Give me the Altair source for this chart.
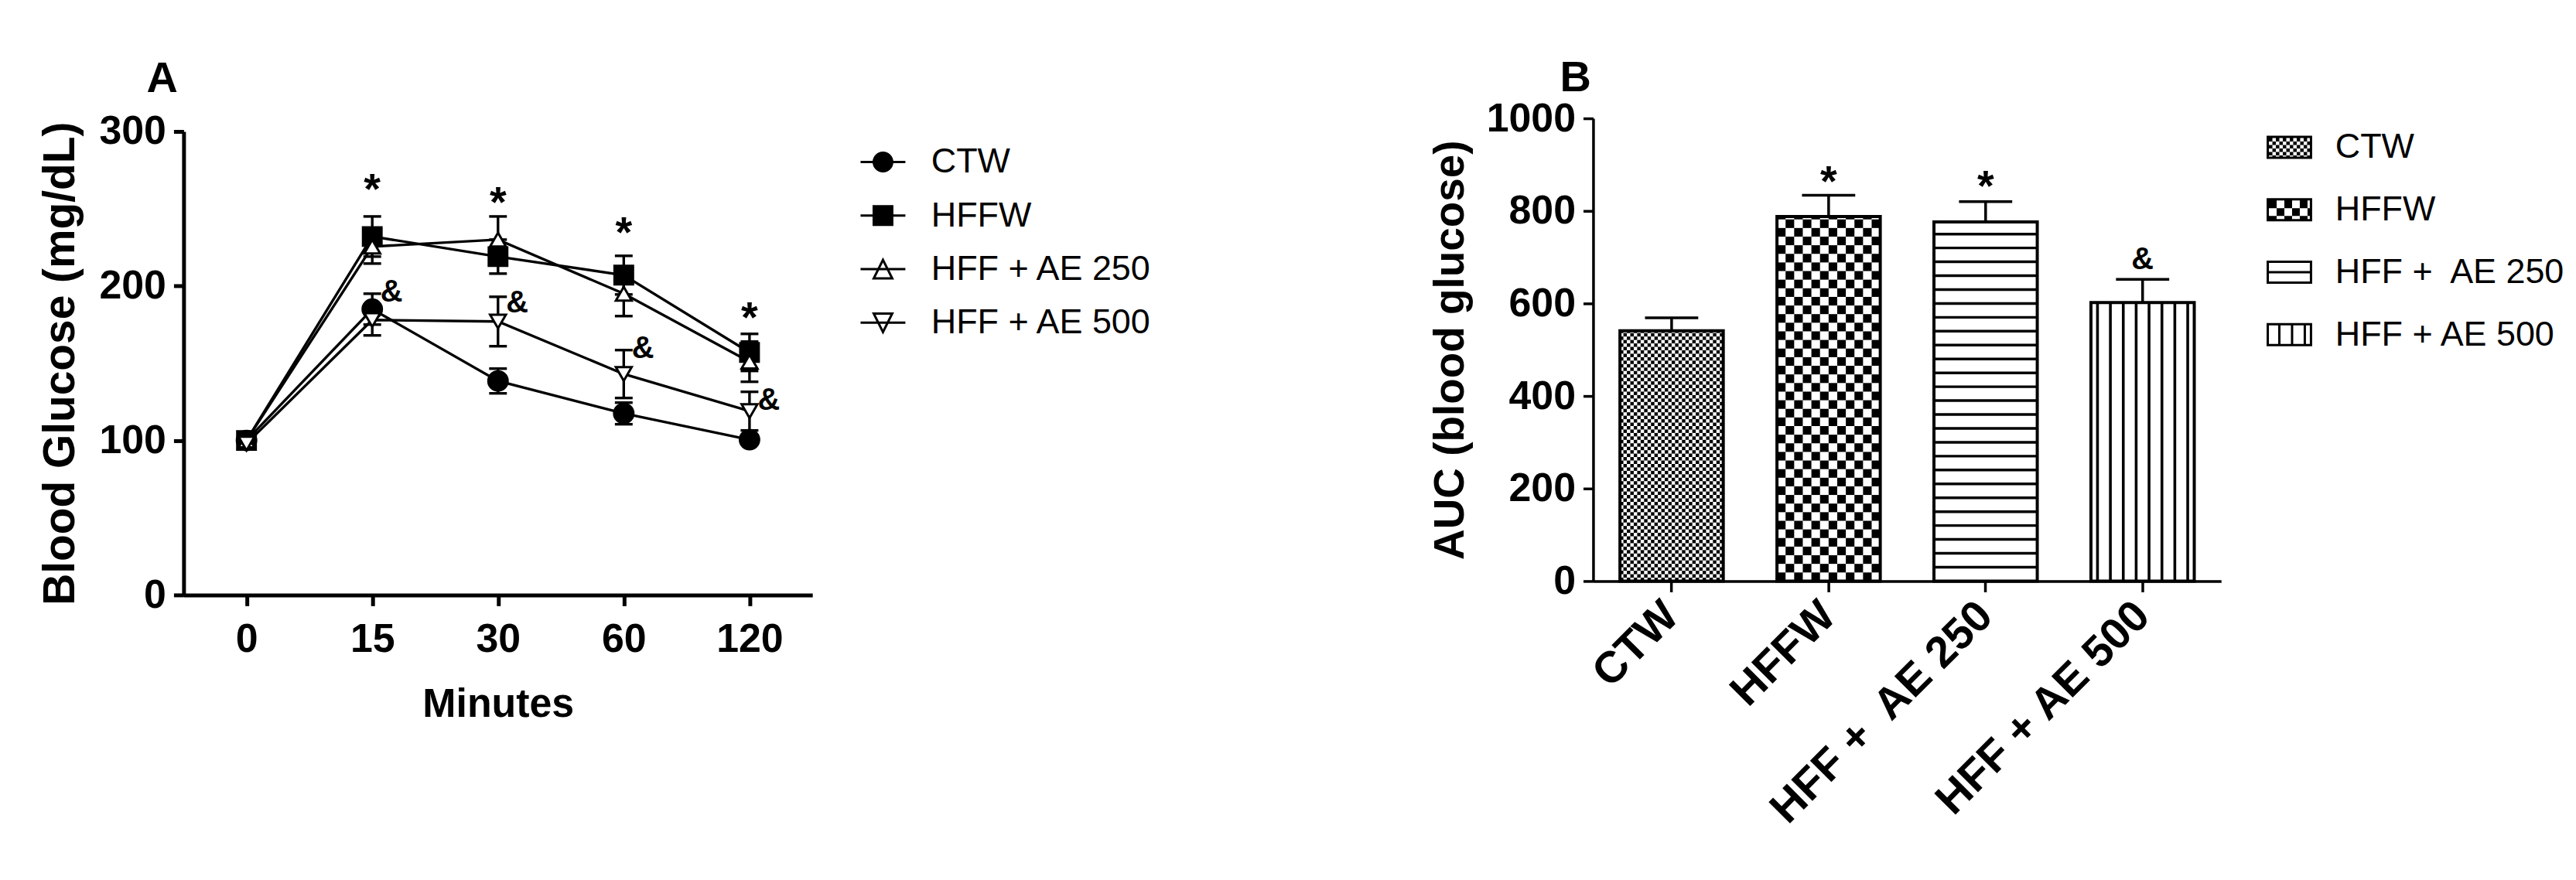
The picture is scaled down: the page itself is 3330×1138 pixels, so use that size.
import altair as alt
import pandas as pd

# ---------------- Panel A data (oral glucose tolerance) ----------------
times = ["0", "15", "30", "60", "120"]
groups = ["CTW", "HFFW", "HFF + AE 250", "HFF + AE 500"]
ctw_mean = [100, 185, 138.5, 117.5, 100.5]
ctw_sem = [2, 10, 8, 7, 3]
hffw_mean = [100, 232, 219, 207, 157]
hffw_sem = [3, 13, 11, 12.5, 12]
ae250_mean = [100, 225.5, 230, 195, 151]
ae250_sem = [3, 11, 15, 14.5, 13]
ae500_mean = [98, 178, 177, 143, 119]
ae500_sem = [3, 10, 16, 15.5, 12.5]

star_times = ["15", "30", "60", "120"]
star_y = [265, 256.5, 237, 182]
amp_times = ["15", "30", "60", "120"]
amp_y = [196, 189, 159.5, 126]

# ---------------- Panel B data (AUC) ----------------
auc_groups = ["CTW", "HFFW", "HFF +\u00a0 AE 250", "HFF + AE 500"]
auc_mean = [541, 788, 776, 602]
auc_sem = [28, 46, 44, 50]
auc_mark_groups = ["HFFW", "HFF +\u00a0 AE 250", "HFF + AE 500"]
auc_mark_text = ["*", "*", "&"]
auc_mark_y = [872, 862, 695]

SANS = "Liberation Sans"
TICKFONT = 52

means = dict(zip(groups, [ctw_mean, hffw_mean, ae250_mean, ae500_mean]))
sems = dict(zip(groups, [ctw_sem, hffw_sem, ae250_sem, ae500_sem]))
rowsA = []
for g in groups:
    for t, m, s in zip(times, means[g], sems[g]):
        rowsA.append({"time": t, "group": g, "mean": m, "lo": m - s, "hi": m + s})
dfA = pd.DataFrame(rowsA)
dfStar = pd.DataFrame({"time": star_times, "y": star_y, "label": ["*"] * len(star_times)})
dfAmp = pd.DataFrame({"time": amp_times, "y": amp_y, "label": ["&"] * len(amp_times)})

A_W, A_H, A_TOP = 815, 618, 17

xScaleA = alt.Scale(type="point", domain=times, padding=0.5)
xAxisA = alt.Axis(title="Minutes", labelAngle=0, domainWidth=5, domainColor="black",
                  tickWidth=5, tickColor="black", tickSize=14, labelFont=SANS,
                  labelFontWeight="bold", labelFontSize=TICKFONT, labelColor="black",
                  labelPadding=18, titleFont=SANS, titleFontWeight="bold",
                  titleFontSize=52, titleColor="black", titlePadding=34, grid=False)
yScaleA = alt.Scale(domain=[0, 300], range=[A_H, A_TOP], nice=False, zero=True)
yAxisA = alt.Axis(title="Blood Glucose (mg/dL)", values=[0, 100, 200, 300], format="d",
                  domainWidth=5, domainColor="black", tickWidth=5, tickColor="black",
                  tickSize=13, labelFont=SANS, labelFontWeight="bold", labelFontSize=TICKFONT,
                  labelColor="black", labelPadding=10, titleFont=SANS,
                  titleFontWeight="bold", titleFontSize=57, titleColor="black",
                  titlePadding=21, grid=False)


def XA():
    return alt.X("time:O", sort=times, scale=xScaleA, axis=xAxisA)


def YA(field):
    return alt.Y(f"{field}:Q", scale=yScaleA, axis=yAxisA)


baseA = alt.Chart(dfA)
lines = baseA.mark_line(color="black", strokeWidth=3.4).encode(x=XA(), y=YA("mean"), detail="group:N")
errs = baseA.mark_rule(color="black", strokeWidth=3.4).encode(x=XA(), y=YA("lo"), y2="hi:Q")
capHi = baseA.mark_tick(color="black", thickness=3.4, size=23, opacity=1).encode(x=XA(), y=YA("hi"))
capLo = baseA.mark_tick(color="black", thickness=3.4, size=23, opacity=1).encode(x=XA(), y=YA("lo"))

styleA = {
    "CTW": ("circle", "black", 625),
    "HFFW": ("square", "black", 576),
    "HFF + AE 250": ("triangle-up", "white", 420),
    "HFF + AE 500": ("triangle-down", "white", 420),
}
pointLayers = []
for g in groups:
    shp, fl, sz = styleA[g]
    pointLayers.append(
        baseA.transform_filter(alt.datum.group == g)
        .mark_point(shape=shp, filled=True, fill=fl, stroke="black", strokeWidth=3,
                    size=sz, opacity=1)
        .encode(x=XA(), y=YA("mean"))
    )

stars = alt.Chart(dfStar).mark_text(font=SANS, fontWeight="bold", fontSize=56,
                                    baseline="middle", dy=6, color="black").encode(
    x=XA(), y=YA("y"), text="label:N")
amps = alt.Chart(dfAmp).mark_text(font=SANS, fontWeight="bold", fontSize=40,
                                  baseline="middle", dx=25, color="black").encode(
    x=XA(), y=YA("y"), text="label:N")

L = 2.42
pathsA = [
    f"M{-L},0L{L},0M1,0A1,1,0,1,1,-1,0A1,1,0,1,1,1,0Z",
    f"M{-L},0L{L},0M-1,-1L1,-1L1,1L-1,1Z",
    f"M{-L},0L{L},0M0,-1L1,1L-1,1Z",
    f"M{-L},0L{L},0M-1,-1L1,-1L0,1Z",
]
legA = alt.Legend(title=None, orient="none", legendX=884, legendY=34, labelFont=SANS,
                  labelFontSize=45, labelColor="black", labelOffset=40, symbolSize=576,
                  symbolStrokeWidth=3, rowPadding=23.5, labelLimit=0, symbolOpacity=1)
legendLayerA = baseA.transform_filter("false").mark_point(
    filled=True, strokeWidth=3, opacity=1).encode(
    shape=alt.Shape("group:N", scale=alt.Scale(domain=groups, range=pathsA), legend=legA),
    fill=alt.Fill("group:N", scale=alt.Scale(domain=groups, range=["black", "black", "white", "white"]),
                  legend=legA),
    stroke=alt.Stroke("group:N", scale=alt.Scale(domain=groups, range=["black"] * 4), legend=legA),
)

chartA = alt.layer(lines, errs, capHi, capLo, *pointLayers, stars, amps, legendLayerA).properties(
    width=A_W, height=A_H,
    title=alt.TitleParams("A", anchor="start", frame="group", dx=-48, offset=-31, fontSize=56,
                          font=SANS, fontWeight="bold", color="black", baseline="alphabetic"),
)

# ---------------- Panel B ----------------
auc_hi = [m + s for m, s in zip(auc_mean, auc_sem)]
dfB = pd.DataFrame({"group": auc_groups, "mean": auc_mean, "hi": auc_hi})
dfBm = pd.DataFrame({"group": auc_mark_groups, "y": auc_mark_y, "label": auc_mark_text})

PX_PER_UNIT = 0.6  # 600 px for 1000 units
BAR_PX = 134


def checker(group, value, ncols, cell_px):
    ch = cell_px / PX_PER_UNIT
    out = []
    r = 0
    while r * ch < value:
        for c in range(ncols):
            if (r + c) % 2 == 0:
                out.append({"group": group, "col": c, "y0": r * ch, "y1": min((r + 1) * ch, value)})
        r += 1
    return pd.DataFrame(out)


dfFine = checker(auc_groups[0], auc_mean[0], 30, BAR_PX / 30)
dfCoarse = checker(auc_groups[1], auc_mean[1], 12, BAR_PX / 12)
hl = []
k = 1
while k * 30 + 3 < auc_mean[2]:
    hl.append({"group": auc_groups[2], "y0": k * 30 - 2.9, "y1": k * 30 + 2.9})
    k += 1
dfH = pd.DataFrame(hl)
dfV = pd.DataFrame({"group": [auc_groups[3]] * 8, "col": list(range(8)),
                    "y0": [0] * 8, "y1": [auc_mean[3]] * 8})

xScaleB = alt.Scale(domain=auc_groups, paddingInner=0.342, paddingOuter=0.171)
xAxisB = alt.Axis(title=None, labelAngle=-45, labelAlign="right", labelBaseline="middle",
                  labelFont=SANS, labelFontWeight="bold", labelFontSize=57, labelColor="black",
                  labelPadding=22, tickSize=14, tickWidth=3.5, tickColor="black",
                  domainWidth=3.5, domainColor="black", labelLimit=0, grid=False)
yScaleB = alt.Scale(domain=[0, 1000], nice=False)
yAxisB = alt.Axis(title="AUC (blood glucose)", values=[0, 200, 400, 600, 800, 1000], format="d",
                  domainWidth=3.5, domainColor="black", tickWidth=3.5, tickColor="black",
                  tickSize=13, labelFont=SANS, labelFontWeight="bold", labelFontSize=TICKFONT,
                  labelColor="black", labelPadding=10, titleFont=SANS, titleFontWeight="bold",
                  titleFontSize=55, titleColor="black", titlePadding=18, grid=False)


def XB():
    return alt.X("group:N", sort=auc_groups, scale=xScaleB, axis=xAxisB)


def YB(field):
    return alt.Y(f"{field}:Q", scale=yScaleB, axis=yAxisB)


barsFill = alt.Chart(dfB).mark_bar(fill="white", strokeWidth=0).encode(x=XB(), y=YB("mean"))
fine = alt.Chart(dfFine).mark_bar(color="black", strokeWidth=0).encode(
    x=XB(), xOffset=alt.XOffset("col:O", scale=alt.Scale(paddingInner=0, paddingOuter=0)),
    y=YB("y0"), y2="y1:Q")
coarse = alt.Chart(dfCoarse).mark_bar(color="black", strokeWidth=0).encode(
    x=XB(), xOffset=alt.XOffset("col:O", scale=alt.Scale(paddingInner=0, paddingOuter=0)),
    y=YB("y0"), y2="y1:Q")
hlines = alt.Chart(dfH).mark_bar(color="black", strokeWidth=0).encode(x=XB(), y=YB("y0"), y2="y1:Q")
vlines = alt.Chart(dfV).mark_bar(color="black", strokeWidth=0).encode(
    x=XB(), xOffset=alt.XOffset("col:O", scale=alt.Scale(paddingInner=0.785, paddingOuter=0.4)),
    y=YB("y0"), y2="y1:Q")
barsBorder = alt.Chart(dfB).mark_bar(fill="white", fillOpacity=0, stroke="black",
                                     strokeWidth=4).encode(x=XB(), y=YB("mean"))
errB = alt.Chart(dfB).mark_rule(color="black", strokeWidth=3.5).encode(x=XB(), y=YB("mean"), y2="hi:Q")
capB = alt.Chart(dfB).mark_tick(color="black", thickness=3.5, size=69, opacity=1).encode(x=XB(), y=YB("hi"))

# legend swatches for panel B (custom symbol paths, 1 unit = 15 px)
W, H, T = 29.5 / 15, 1.0, 3 / 15


def R(x0, y0, x1, y1):
    return f"M{x0:.3f},{y0:.3f}L{x1:.3f},{y0:.3f}L{x1:.3f},{y1:.3f}L{x0:.3f},{y1:.3f}Z"


def Rccw(x0, y0, x1, y1):
    return f"M{x0:.3f},{y0:.3f}L{x0:.3f},{y1:.3f}L{x1:.3f},{y1:.3f}L{x1:.3f},{y0:.3f}Z"


ring = R(-W, -H, W, H) + Rccw(-W + T, -H + T, W - T, H - T)


def checker_path(cell):
    p = ""
    x0, y0, x1, y1 = -W + T, -H + T, W - T, H - T
    j = 0
    y = y0
    while y < y1 - 1e-6:
        i = 0
        x = x0
        while x < x1 - 1e-6:
            if (i + j) % 2 == 0:
                p += R(x, y, min(x + cell, x1), min(y + cell, y1))
            x += cell
            i += 1
        y += cell
        j += 1
    return p


pathsB = [
    ring + checker_path(4.5 / 15),
    ring + checker_path(10 / 15),
    ring + R(-W, -T / 2, W, T / 2),
    ring + "".join(R(-W + kk * 16.5 / 15 - T / 2, -H, -W + kk * 16.5 / 15 + T / 2, H) for kk in (1, 2, 3)),
]
legB = alt.Legend(title=None, orient="none", legendX=880, legendY=15, labelFont=SANS,
                  labelFontSize=45, labelColor="black", labelOffset=37, symbolSize=900,
                  symbolStrokeWidth=0, symbolFillColor="black", rowPadding=35, labelLimit=0,
                  symbolOpacity=1)
legendLayerB = alt.Chart(dfB).transform_filter("false").mark_point(
    filled=True, fill="black", strokeWidth=0, opacity=1).encode(
    shape=alt.Shape("group:N", scale=alt.Scale(domain=auc_groups, range=pathsB), legend=legB))

starsB = alt.Chart(dfBm).transform_filter(alt.datum.label == "*").mark_text(
    font=SANS, fontWeight="bold", fontSize=56, baseline="middle", dy=6, color="black").encode(
    x=XB(), y=YB("y"), text="label:N")
ampsB = alt.Chart(dfBm).transform_filter(alt.datum.label == "&").mark_text(
    font=SANS, fontWeight="bold", fontSize=40, baseline="middle", color="black").encode(
    x=XB(), y=YB("y"), text="label:N")

chartB = alt.layer(barsFill, fine, coarse, hlines, vlines, barsBorder, errB, capB, starsB, ampsB,
                   legendLayerB).resolve_scale(xOffset="independent").properties(
    width=814, height=600,
    title=alt.TitleParams("B", anchor="start", frame="group", dx=-43, offset=-47, fontSize=56,
                          font=SANS, fontWeight="bold", color="black", baseline="alphabetic"),
)

chart = alt.hconcat(chartA, chartB, spacing=358).resolve_scale(
    shape="independent", fill="independent", stroke="independent"
).resolve_legend(shape="independent", fill="independent", stroke="independent").properties(
    padding={"left": 41, "top": 64, "right": 5, "bottom": 5}, background="white"
).configure_view(stroke=None)

chart.save("out.html", embed_options={"renderer": "svg", "actions": False})
